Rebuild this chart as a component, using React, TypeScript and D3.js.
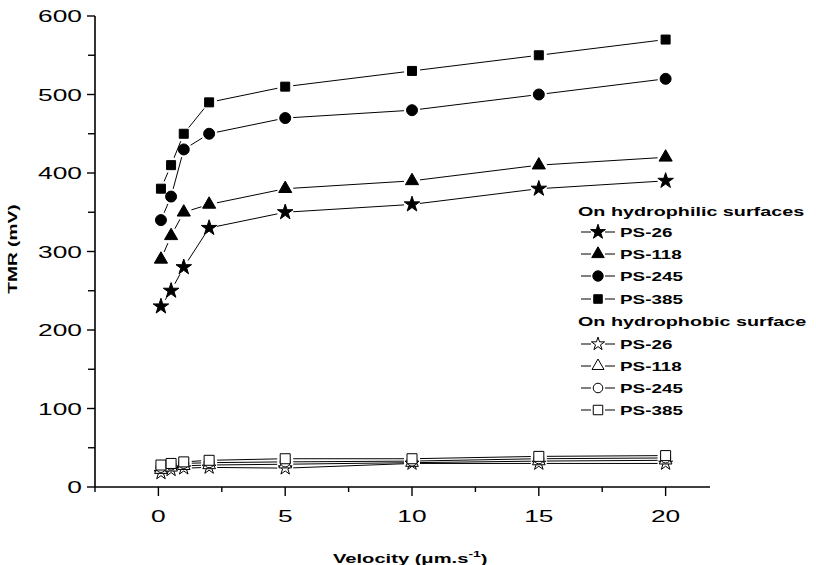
import React from 'react';
import * as d3 from 'd3';

// velocity (um/s)
const velocity = [0.1, 0.5, 1, 2, 5, 10, 15, 20];
const seriesNames = ['PS-26', 'PS-118', 'PS-245', 'PS-385'];

// TMR on hydrophilic surfaces
const philic26 = [230, 250, 280, 330, 350, 360, 380, 390];
const philic118 = [290, 320, 350, 360, 380, 390, 410, 420];
const philic245 = [340, 370, 430, 450, 470, 480, 500, 520];
const philic385 = [380, 410, 450, 490, 510, 530, 550, 570];

// TMR on hydrophobic surface
const phobic26 = [18, 22, 24, 25, 24, 30, 30, 30];
const phobic118 = [22, 25, 27, 28, 29, 31, 33, 34];
const phobic245 = [25, 28, 30, 31, 32, 33, 36, 37];
const phobic385 = [28, 30, 32, 34, 36, 36, 39, 40];

const yTicks = [0, 100, 200, 300, 400, 500, 600];
const yMinor = [50, 150, 250, 350, 450, 550];
const xTicks = [0, 5, 10, 15, 20];
const xMinor = [-2.5, 2.5, 7.5, 12.5, 17.5];

const FONT = '"Liberation Sans", Arial, sans-serif';
const SX = 1.55;

const x = d3.scaleLinear().domain([-2.5, 21.75]).range([95, 710]);
const y = d3.scaleLinear().domain([0, 600]).range([487, 16]);

const symbols = [d3.symbolStar, d3.symbolTriangle, d3.symbolCircle, d3.symbolSquare];
const sizes = [75, 75, 95, 81];
const openSizes = [60, 70, 80, 100];

function T(props: any) {
  const { x: tx, y: ty, size, bold, anchor, rot, sx, children } = props;
  return (
    <text
      transform={`translate(${tx},${ty})${rot ? ` rotate(${rot})` : ''} scale(${sx ?? SX},1)`}
      fontFamily={FONT}
      fontSize={size}
      fontWeight={bold ? 'bold' : 'normal'}
      textAnchor={anchor || 'start'}
      fill="#000"
    >
      {children}
    </text>
  );
}

function segments(vals: number[], cut: number) {
  const out: any[] = [];
  for (let i = 0; i < vals.length - 1; i++) {
    const x1 = x(velocity[i]), y1 = y(vals[i]);
    const x2 = x(velocity[i + 1]), y2 = y(vals[i + 1]);
    const dx = x2 - x1, dy = y2 - y1;
    const len = Math.sqrt(dx * dx + dy * dy);
    if (len < 2 * cut + 2) continue;
    const ux = dx / len, uy = dy / len;
    out.push(
      <line key={i} x1={x1 + ux * cut} y1={y1 + uy * cut} x2={x2 - ux * cut} y2={y2 - uy * cut}
        stroke="#000" strokeWidth={1} />
    );
  }
  return out;
}

function Series(props: any) {
  const { vals, k, open } = props;
  const path = d3.symbol().type(symbols[k]).size(open ? openSizes[k] : sizes[k])();
  return (
    <g>
      {segments(vals, 8)}
      {vals.map((v: number, i: number) => (
        <path key={i} d={path || ''} transform={`translate(${x(velocity[i])},${y(v)})`}
          fill={open ? '#fff' : '#000'} stroke="#000" strokeWidth={1} />
      ))}
    </g>
  );
}

export default function App() {
  const philic = [philic26, philic118, philic245, philic385];
  const phobic = [phobic26, phobic118, phobic245, phobic385];
  const legend1Rows = [232, 254, 276, 299];
  const legend2Rows = [344, 366, 388, 410];

  const legendRow = (name: string, k: number, ly: number, open: boolean) => {
    const path = d3.symbol().type(symbols[k]).size(open ? openSizes[k] * 0.9 : sizes[k] * 0.9)();
    return (
      <g key={name + ly}>
        <line x1={581} x2={591} y1={ly} y2={ly} stroke="#000" strokeWidth={1} />
        <line x1={605} x2={615} y1={ly} y2={ly} stroke="#000" strokeWidth={1} />
        <path d={path || ''} transform={`translate(598,${ly})`} fill={open ? '#fff' : '#000'} stroke="#000" strokeWidth={1} />
        <T x={620} y={ly + 4.7} size={13} bold sx={1.45}>{name}</T>
      </g>
    );
  };

  return (
    <svg width={816} height={565} style={{ position: 'absolute', left: 0, top: 0, background: '#fff' }}>
      <rect width={816} height={565} fill="#fff" />
      {/* axes */}
      <line x1={95} x2={95} y1={y(600)} y2={y(0)} stroke="#000" strokeWidth={1.6} />
      <line x1={95} x2={710} y1={y(0)} y2={y(0)} stroke="#000" strokeWidth={1.6} />
      {yTicks.map(t => (
        <g key={'y' + t}>
          <line x1={87} x2={95} y1={y(t)} y2={y(t)} stroke="#000" strokeWidth={1.4} />
          <T x={82} y={y(t) + 6} size={17} anchor="end">{t}</T>
        </g>
      ))}
      {yMinor.map(t => (
        <line key={'ym' + t} x1={88} x2={95} y1={y(t)} y2={y(t)} stroke="#000" strokeWidth={1.4} />
      ))}
      {xTicks.map(t => (
        <g key={'x' + t}>
          <line x1={x(t)} x2={x(t)} y1={y(0)} y2={y(0) + 9} stroke="#000" strokeWidth={1.4} />
          <T x={x(t)} y={522} size={17} anchor="middle">{t}</T>
        </g>
      ))}
      {xMinor.map(t => (
        <line key={'xm' + t} x1={x(t)} x2={x(t)} y1={y(0)} y2={y(0) + 5} stroke="#000" strokeWidth={1.4} />
      ))}
      {/* axis titles */}
      <T x={17} y={249} size={13.5} bold anchor="middle" rot={-90} sx={1.42}>TMR (mV)</T>
      <T x={333} y={563} size={13} bold>
        Velocity (μm.s<tspan fontSize={9} dy={-6}>-1</tspan><tspan dy={6}>)</tspan>
      </T>
      {/* data */}
      {phobic.map((v, k) => <Series key={'o' + k} vals={v} k={k} open />)}
      {philic.map((v, k) => <Series key={'f' + k} vals={v} k={k} />)}
      {/* legend */}
      <T x={578} y={215.5} size={13} bold sx={1.52}>On hydrophilic surfaces</T>
      {seriesNames.map((n, k) => legendRow(n, k, legend1Rows[k], false))}
      <T x={578} y={325.5} size={13} bold sx={1.52}>On hydrophobic surface</T>
      {seriesNames.map((n, k) => legendRow(n, k, legend2Rows[k], true))}
    </svg>
  );
}
